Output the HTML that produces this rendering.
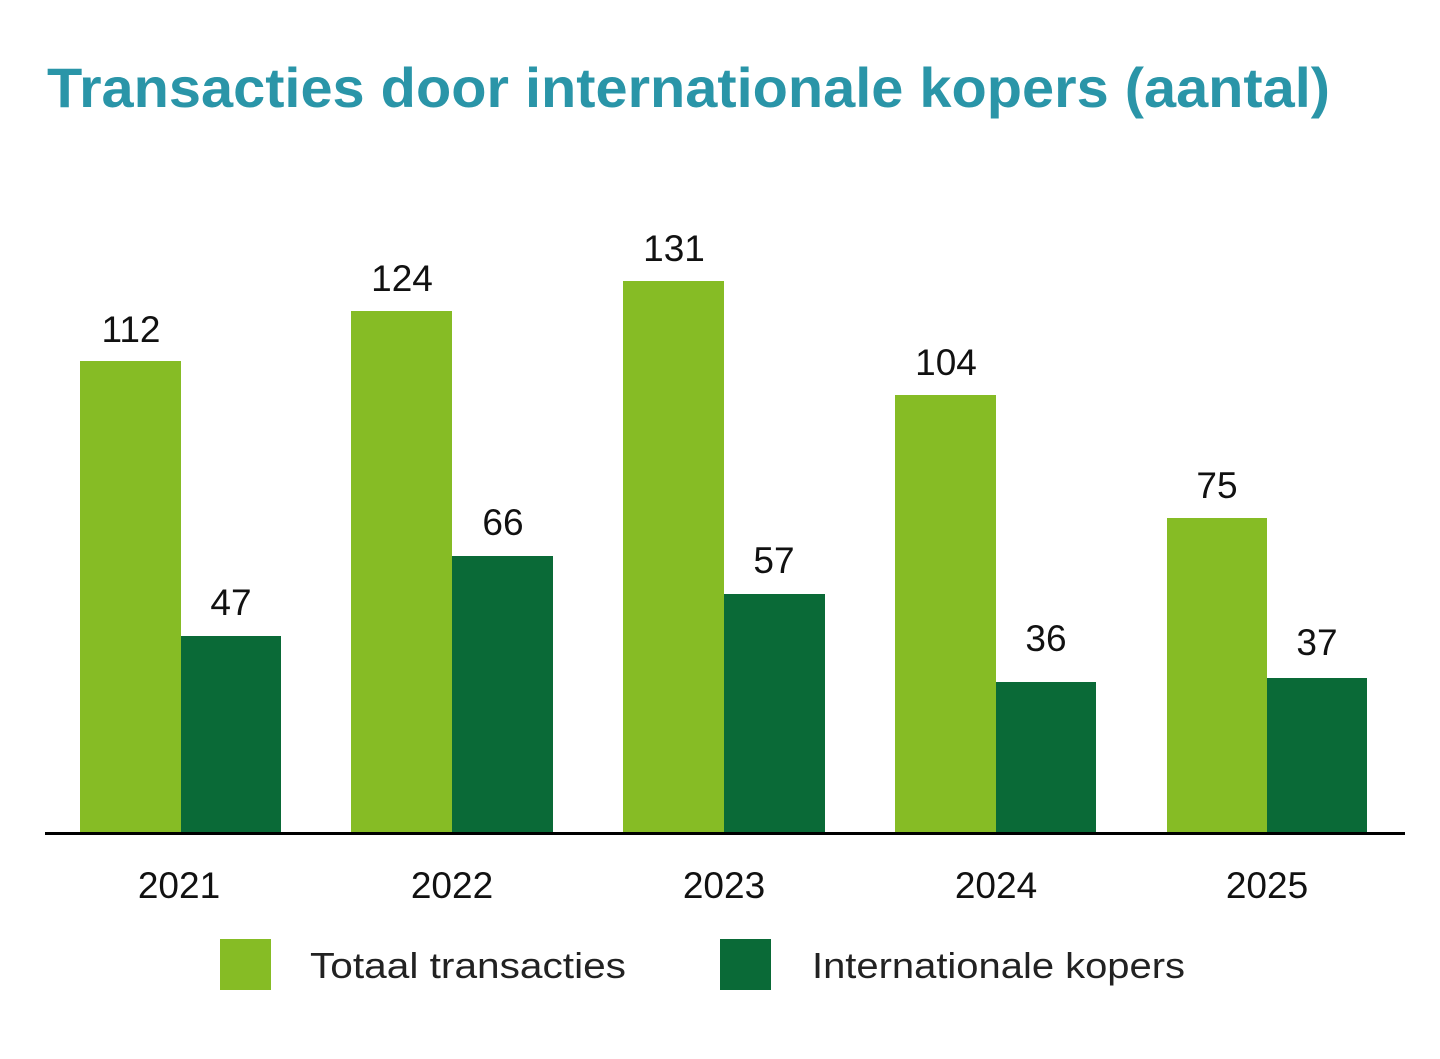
<!DOCTYPE html>
<html><head><meta charset="utf-8"><style>
html,body{margin:0;padding:0;background:#fff;}
svg{display:block;}
</style></head><body>
<svg width="1440" height="1059" xmlns="http://www.w3.org/2000/svg" font-family="Liberation Sans, Arial, sans-serif">
<rect width="1440" height="1059" fill="#fff"/>
<text x="47" y="107" font-size="56" font-weight="bold" fill="#2a95a8" textLength="1283" lengthAdjust="spacingAndGlyphs">Transacties door internationale kopers (aantal)</text>
<g fill="#86bc25">
<rect x="80" y="361" width="101" height="472"/>
<rect x="351" y="311" width="101" height="522"/>
<rect x="623" y="281" width="101" height="552"/>
<rect x="895" y="395" width="101" height="438"/>
<rect x="1167" y="518" width="100" height="315"/>
</g>
<g fill="#0a6a37">
<rect x="181" y="636" width="100" height="197"/>
<rect x="452" y="556" width="101" height="277"/>
<rect x="724" y="594" width="101" height="239"/>
<rect x="996" y="682" width="100" height="151"/>
<rect x="1267" y="678" width="100" height="155"/>
</g>
<rect x="45" y="832" width="1360" height="3" fill="#000"/>
<g font-size="37" fill="#111" text-anchor="middle">
<text x="131" y="342">112</text>
<text x="402" y="291">124</text>
<text x="674" y="261">131</text>
<text x="946" y="375">104</text>
<text x="1217" y="498">75</text>
<text x="231" y="615">47</text>
<text x="503" y="535">66</text>
<text x="774" y="573">57</text>
<text x="1046" y="651">36</text>
<text x="1317" y="655">37</text>
<text x="179" y="898">2021</text>
<text x="452" y="898">2022</text>
<text x="724" y="898">2023</text>
<text x="996" y="898">2024</text>
<text x="1267" y="898">2025</text>
</g>
<rect x="220" y="939" width="51" height="51" fill="#86bc25"/>
<rect x="720" y="939" width="51" height="51" fill="#0a6a37"/>
<g font-size="36" fill="#222">
<text x="310" y="978" textLength="316" lengthAdjust="spacingAndGlyphs">Totaal transacties</text>
<text x="812" y="978" textLength="373" lengthAdjust="spacingAndGlyphs">Internationale kopers</text>
</g>
</svg>
</body></html>
